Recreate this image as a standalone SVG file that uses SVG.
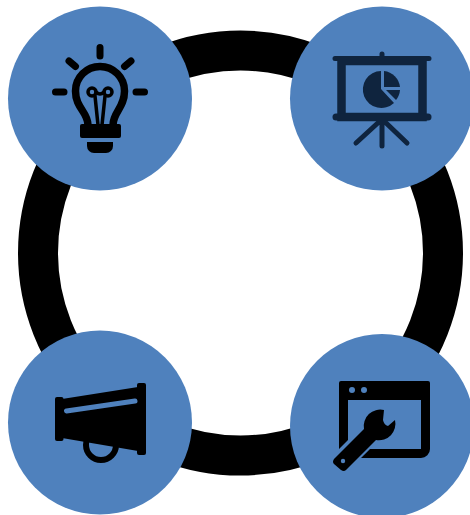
<svg xmlns="http://www.w3.org/2000/svg" width="470" height="515" viewBox="0 0 470 515">
<style>
.disc{fill:#4f81bd}
.k{fill:none;stroke:#000;stroke-linecap:round;stroke-linejoin:round}
.d{fill:none;stroke:#0f243e;stroke-linecap:round;stroke-linejoin:round}
</style>
<rect width="470" height="515" fill="#fff"/>
<g id="connectors"><circle cx="240.500" cy="253" r="202.500" fill="none" stroke="#000" stroke-width="40"/></g>
<g id="node-idea">
<circle class="disc" cx="100" cy="98.500" r="92"/>
<path class="k" stroke-width="7" d="M100,47.500V56M55.500,92H64M136,92H144.500M69,61L75.500,66.500M131,61L124.500,66.500"/>
<path class="k" stroke-width="7.500" d="M88,125C88,112 75.500,108 75.500,91A24.500,24.500 0 0 1 124.500,91C124.500,108 113,112 113,125"/>
<circle class="k" stroke-width="3.500" cx="92" cy="92" r="4"/>
<circle class="k" stroke-width="3.500" cx="108" cy="92" r="4"/>
<path class="k" stroke-width="3.500" d="M95,96L98,125M105,96L102,125M96,92Q100,96 104,92"/>
<rect x="80" y="124" width="41" height="14" rx="2"/>
<path d="M87,142H113V146A7,7 0 0 1 106,153H94A7,7 0 0 1 87,146Z"/>
</g>
<g id="node-presentation">
<circle class="disc" cx="382" cy="98.500" r="92"/>
<rect x="341.500" y="61" width="81" height="56" fill="none" stroke="#0f243e" stroke-width="8.500"/>
<path class="d" stroke-width="5" d="M335,58.500H429M382,54V58M382,120V146M380,121L356,143M384,121L407,143"/>
<path class="d" stroke-width="7" d="M336,117H428"/>
<path fill="#0f243e" d="M381,71V89L394,103A18.500,18.500 0 1 1 381,71Z"/>
<path fill="#0f243e" d="M384,71A18,18 0 0 1 400,87H384Z"/>
<path fill="#0f243e" d="M386,90H400A18,18 0 0 1 396,100Z"/>
</g>
<g id="node-campaign">
<circle class="disc" cx="100" cy="422.500" r="92"/>
<circle cx="101" cy="445" r="15" fill="none" stroke="#000" stroke-width="6"/>
<rect x="55" y="397" width="8.500" height="44" rx="2"/>
<rect x="137" y="383" width="9" height="72" rx="2"/>
<path d="M62,399L138,387V451L62,438Z"/>
<path d="M66.500,411L135,401" fill="none" stroke="#4f81bd" stroke-width="5" stroke-linecap="round"/>
</g>
<g id="node-tools">
<circle class="disc" cx="382" cy="426" r="92"/>
<path fill-rule="evenodd" d="M341,381H428A2,2 0 0 1 430,383V449A9,9 0 0 1 421,458H361L370,449H421V400H348V440L339,449V383A2,2 0 0 1 341,381Z"/>
<circle cx="352" cy="390" r="3" fill="#4f81bd"/>
<circle cx="364" cy="390" r="3" fill="#4f81bd"/>
<path d="M384,410A16.500,16.500 0 0 0 364,429L334,459Q332,462 334,464L341,470Q344,472 346,470L376,440A16.500,16.500 0 0 0 395,420L388,426Q384,425 383,420Z"/>
<circle cx="343" cy="461" r="2.200" fill="#4f81bd"/>
</g>
</svg>
